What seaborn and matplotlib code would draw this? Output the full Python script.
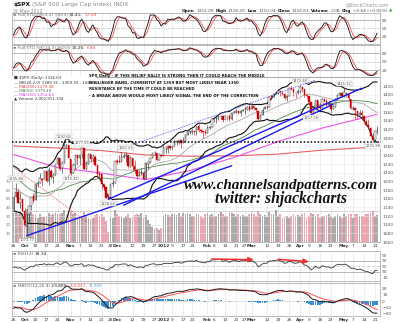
import numpy as np
import pandas as pd
import matplotlib
matplotlib.use("Agg")
import matplotlib.pyplot as plt
import seaborn as sns
from matplotlib.transforms import IdentityTransform
from matplotlib.patches import Rectangle

# ---------------------------------------------------------------- data
holidays = ["2011-11-24", "2011-12-26", "2012-01-02", "2012-01-16", "2012-02-20", "2012-04-06"]

# closes before the visible window (Jul 15 - Sep 23 2011), needed by the indicators
warm_close = [1316.14, 1305.44, 1326.73, 1325.84, 1343.80, 1345.02, 1337.43, 1331.94, 1304.89, 1300.67, 1292.28,
              1286.94, 1254.05, 1260.34, 1200.07, 1199.38, 1119.46, 1172.53, 1120.76, 1172.64, 1178.81, 1204.49,
              1192.76, 1193.89, 1140.65, 1123.53, 1123.82, 1162.35, 1177.60, 1159.27, 1176.80, 1210.08, 1212.92,
              1218.89, 1204.42, 1173.97, 1165.24, 1198.62, 1185.90, 1154.23, 1162.27, 1172.87, 1188.68, 1209.11,
              1216.01, 1204.09, 1202.09, 1166.76, 1129.56, 1136.43]
warm_high = [1181, 1210.1, 1220, 1230.7, 1229, 1203, 1167, 1198.7, 1204, 1185, 1163, 1176, 1202, 1209.2, 1220,
             1216, 1220, 1205, 1166, 1141]
warm_low = [1135, 1179, 1195, 1209, 1203, 1170, 1136, 1167, 1183, 1150, 1136, 1157, 1163, 1190, 1205, 1188, 1201,
            1166, 1115, 1121]

open_ = [1136, 1163, 1175, 1151, 1160,
         1131, 1097, 1124, 1144, 1166, 1158, 1194, 1196, 1206, 1205, 1224, 1201, 1225, 1209, 1215, 1239, 1254, 1230, 1243, 1284, 1284,
         1251, 1219, 1238, 1260, 1253, 1261, 1276, 1229, 1240, 1263, 1251, 1257, 1237, 1217, 1216, 1192, 1187, 1162, 1164, 1193, 1197,
         1246, 1246, 1245, 1257, 1258, 1260, 1234, 1255, 1236, 1226, 1212, 1216, 1219, 1206, 1241, 1244, 1254, 1265, 1265, 1250, 1262,
         1258, 1277, 1275, 1281, 1278, 1281, 1292, 1292, 1295, 1291, 1293, 1308, 1314, 1315, 1315, 1315, 1327, 1318, 1316, 1314,
         1312, 1324, 1326, 1344, 1344, 1347, 1350, 1352, 1343, 1352, 1350, 1343, 1358, 1361, 1362, 1357, 1363, 1366, 1368, 1372,
         1366, 1374, 1370, 1363, 1343, 1353, 1366, 1371, 1371, 1396, 1394, 1402, 1404, 1409, 1405, 1402, 1393, 1397, 1416, 1413, 1405, 1404,
         1408, 1418, 1413, 1399, 1397, 1383, 1359, 1369, 1387, 1371, 1370, 1390, 1385, 1377, 1378, 1367, 1372, 1391, 1400, 1403,
         1398, 1405, 1402, 1391, 1368, 1369, 1363, 1354, 1358, 1351, 1338, 1331, 1324, 1305, 1295, 1316.09]
high = [1164, 1195.86, 1184, 1175, 1160,
        1138, 1125, 1146, 1165, 1172, 1195, 1201, 1220, 1207, 1224.6, 1224, 1233, 1229, 1219, 1239, 1256.55, 1254, 1246, 1292.66, 1287, 1284,
        1251, 1242, 1263, 1260, 1262, 1277.55, 1276, 1246, 1266, 1264, 1264, 1260, 1237, 1223, 1216, 1196, 1187, 1172, 1197, 1204, 1247,
        1251, 1260, 1267, 1266, 1267.06, 1260, 1258, 1255, 1250, 1226, 1226, 1231, 1224, 1242, 1245, 1255, 1265.4, 1269, 1266, 1263.5, 1264,
        1284.6, 1279, 1283, 1281, 1282, 1296, 1294, 1296, 1295, 1303, 1308.5, 1315, 1315.4, 1322, 1315, 1328, 1333.5, 1320, 1316, 1322,
        1330.5, 1329, 1345.3, 1344.4, 1349, 1351, 1354, 1352, 1353, 1352, 1355.9, 1359, 1363.4, 1367.8, 1362.7, 1364, 1368, 1371.9, 1373, 1378,
        1376, 1374.5, 1370, 1363, 1354.9, 1368.7, 1374.8, 1373, 1396, 1399.4, 1402.6, 1405.9, 1414, 1409, 1407.8, 1402.9, 1399, 1416.6, 1419.2, 1413.7, 1405, 1410.9,
        1422.38, 1419, 1413, 1401.6, 1397, 1383, 1374.7, 1388, 1387, 1380, 1392.8, 1390, 1390.4, 1387.4, 1378, 1375.6, 1391.4, 1402, 1406.6, 1403,
        1415.32, 1405, 1403, 1391, 1373.9, 1369, 1363, 1365.9, 1365.9, 1351, 1344.9, 1343, 1326.4, 1312.2, 1316, 1328.49]
low = [1131, 1163, 1150, 1139, 1131,
       1098, 1074.77, 1107, 1134, 1150, 1158, 1186, 1196, 1190, 1205, 1198, 1191, 1206, 1197, 1215, 1238, 1226, 1219, 1243, 1277, 1253,
       1215.42, 1219, 1228, 1238, 1241, 1254, 1226, 1227, 1240, 1244, 1244, 1235, 1209, 1211, 1183, 1181, 1161, 1158.66, 1164, 1188, 1197,
       1239, 1243, 1245, 1253, 1244, 1231, 1234, 1227, 1220, 1206, 1212, 1215, 1203, 1206, 1229, 1243, 1254, 1262, 1248, 1250, 1257,
       1258, 1266, 1266, 1273, 1275, 1281, 1285, 1286, 1278, 1288, 1290, 1308, 1309, 1309, 1306, 1307, 1313, 1311, 1300, 1306,
       1312, 1321, 1326, 1337, 1335, 1341, 1344, 1337, 1343, 1341, 1340, 1341, 1358, 1358, 1355, 1352, 1363, 1355, 1365, 1363,
       1366, 1368, 1360, 1340, 1343, 1353, 1366, 1366, 1371, 1389, 1394, 1401, 1402, 1397, 1400, 1388, 1386, 1397, 1411, 1397, 1392, 1401,
       1404, 1406, 1395, 1392, 1378, 1357.38, 1359, 1368, 1369, 1365, 1370, 1383, 1371, 1377, 1358.8, 1366, 1372, 1387, 1397, 1394,
       1395, 1394, 1388, 1367, 1363.9, 1343, 1343, 1354, 1348, 1336, 1328.5, 1324, 1304.9, 1291.98, 1295, 1310.04]
close = [1162.95, 1175.38, 1151.06, 1160.40, 1131.42,
         1099.23, 1123.95, 1144.03, 1164.97, 1155.46, 1194.89, 1195.54, 1207.25, 1203.66, 1224.58, 1200.86, 1225.38, 1209.88, 1215.39, 1238.25, 1254.19, 1229.05, 1242.00, 1284.59, 1285.09, 1253.30,
         1218.28, 1237.90, 1261.15, 1253.23, 1261.12, 1275.92, 1229.10, 1239.69, 1263.85, 1251.78, 1257.81, 1236.91, 1216.13, 1215.65, 1192.98, 1188.04, 1161.79, 1158.67, 1192.55, 1195.19, 1246.96,
         1244.58, 1244.28, 1257.08, 1258.47, 1261.01, 1234.35, 1255.19, 1236.47, 1225.73, 1211.82, 1215.75, 1219.66, 1205.35, 1241.30, 1243.72, 1254.00, 1265.33, 1265.43, 1249.64, 1263.02, 1257.60,
         1277.06, 1277.30, 1281.06, 1277.81, 1280.70, 1292.08, 1292.48, 1295.50, 1289.09, 1293.67, 1308.04, 1314.50, 1315.38, 1316.00, 1314.65, 1326.06, 1318.43, 1316.33, 1313.01, 1312.41,
         1324.09, 1325.54, 1344.90, 1344.33, 1347.05, 1349.96, 1351.95, 1342.64, 1351.77, 1350.50, 1343.23, 1358.04, 1361.23, 1362.21, 1357.66, 1363.46, 1365.74, 1367.59, 1372.18, 1365.68,
         1374.09, 1369.63, 1364.33, 1343.36, 1352.63, 1365.91, 1370.87, 1371.09, 1395.95, 1394.28, 1402.60, 1404.17, 1409.75, 1405.52, 1402.89, 1392.78, 1397.11, 1416.51, 1412.52, 1405.54, 1403.28, 1408.47,
         1419.04, 1413.38, 1398.96, 1398.08, 1382.20, 1358.59, 1368.71, 1387.57, 1370.26, 1369.57, 1390.78, 1385.14, 1376.92, 1378.53, 1366.94, 1371.97, 1390.69, 1399.98, 1403.36, 1397.91,
         1405.82, 1402.31, 1391.57, 1369.10, 1369.58, 1363.72, 1354.58, 1357.99, 1353.39, 1338.35, 1330.66, 1324.80, 1304.86, 1295.22, 1315.99, 1316.63]
# volume, hundreds of millions of shares
volume = [34, 36, 33, 35, 34,
          36, 38, 36, 35, 33, 31, 28, 32, 29, 29, 30, 34, 31, 33, 34, 32, 32, 34, 37, 31, 34,
          36, 32, 34, 29, 28, 30, 35, 30, 28, 27, 28, 31, 33, 30, 33, 29, 24, 12, 29, 28, 37,
          33, 30, 29, 28, 30, 32, 28, 29, 31, 32, 31, 34, 28, 31, 26, 21, 17, 15, 16, 14, 16,
          30, 32, 31, 30, 32, 33, 31, 34, 30, 34, 32, 34, 33, 30, 30, 33, 32, 30, 28, 33,
          34, 31, 32, 30, 30, 32, 35, 32, 30, 30, 35, 34, 32, 30, 32, 30, 31, 30, 30, 33,
          34, 32, 30, 36, 32, 30, 31, 29, 35, 33, 32, 37, 30, 32, 28, 30, 30, 28, 30, 32, 30, 31,
          30, 32, 34, 28, 30, 34, 32, 30, 32, 28, 30, 30, 31, 32, 30, 28, 30, 32, 30, 28,
          32, 30, 32, 33, 28, 33, 33, 30, 30, 30, 32, 33, 34, 36, 30, 31]
volume_ref = 36

ma_days = ["2011-09-26", "2011-10-24", "2011-11-21", "2011-12-20", "2012-01-20",
           "2012-02-17", "2012-03-19", "2012-04-17", "2012-05-22"]
ma200_vals = [1282, 1277, 1271, 1261, 1258, 1259, 1263, 1272, 1279.38]
ma100_vals = [1262, 1232, 1219, 1204, 1225, 1255, 1292, 1323, 1354.63]

support_level = 1292
blue_lines = [(("2011-10-04", 1074.77), ("2012-02-16", 1236)),
              (("2011-11-25", 1158.66), ("2012-05-11", 1415)),
              (("2011-12-06", 1145), ("2012-04-24", 1378))]
channel_top = (("2011-12-01", 1272), ("2012-04-12", 1434))
red_downtrend = (("2011-09-26", 1233), ("2011-11-10", 1107))
rsi_divergence = [(("2012-02-03", 76.5), ("2012-03-02", 74)),
                  (("2012-03-19", 75.5), ("2012-04-09", 67))]

price_labels = [("2011-09-27", 1195.86, "above"), ("2011-10-04", 1074.77, "below"),
                ("2011-10-27", 1292.66, "above"), ("2011-11-01", 1215.42, "below"),
                ("2011-11-08", 1277.55, "above"), ("2011-11-25", 1158.66, "below"),
                ("2011-12-07", 1267.06, "above"), ("2012-04-02", 1422.38, "above"),
                ("2012-04-10", 1357.38, "below"), ("2012-05-01", 1415.32, "above"),
                ("2012-05-18", 1291.98, "below")]

tick_dates = ["2011-09-26", "2011-10-03", "2011-10-10", "2011-10-17", "2011-10-24", "2011-11-01", "2011-11-07",
              "2011-11-14", "2011-11-21", "2011-11-28", "2011-12-01", "2011-12-12", "2011-12-19", "2011-12-27",
              "2012-01-03", "2012-01-09", "2012-01-17", "2012-01-23", "2012-02-01", "2012-02-06", "2012-02-13",
              "2012-02-21", "2012-02-27", "2012-03-01", "2012-03-12", "2012-03-19", "2012-03-26", "2012-04-02",
              "2012-04-09", "2012-04-16", "2012-04-23", "2012-05-01", "2012-05-07", "2012-05-14", "2012-05-21"]
tick_text = ["26", "Oct", "10", "17", "24", "Nov", "7", "14", "21", "28", "Dec", "12", "19", "27", "2012", "9",
             "17", "23", "Feb", "6", "13", "21", "27", "Mar", "12", "19", "26", "Apr", "9", "16", "23", "May",
             "7", "14", "21"]

# ---------------------------------------------------------------- setup
sns.set_theme(style="white")
plt.rcParams['font.family'] = ['DejaVu Sans']

W, H = 400, 323
fig = plt.figure(figsize=(W / 100, H / 100), dpi=100)
fig.patch.set_facecolor("white")
REN = fig.canvas.get_renderer()
ID = IdentityTransform()

L_PX, R_PX = 11.5, 380.0
X0_PX, DX_PX = 13.5, 2.204
XMIN = (L_PX - X0_PX) / DX_PX
XMAX = (R_PX - X0_PX) / DX_PX

dates = pd.bdate_range("2011-09-26", "2012-05-22")
dates = dates[~dates.isin(pd.to_datetime(holidays))]
pos = {d: i for i, d in enumerate(dates)}


def di(s):
    return pos[pd.Timestamp(s)]


x = np.arange(len(dates))
tick_pos = [di(d) for d in tick_dates]
bold_ticks = {"Oct", "Nov", "Dec", "2012", "Feb", "Mar", "Apr", "May"}

# ---------------------------------------------------------------- indicators
nw = len(warm_close)
c_all = pd.Series(warm_close + close, dtype=float)
pad = [np.nan] * (nw - len(warm_high))
h_all = pd.Series(pad + warm_high + high, dtype=float)
l_all = pd.Series(pad + warm_low + low, dtype=float)


def full_sto(k, s=3, d=3):
    hh = h_all.rolling(k).max()
    ll = l_all.rolling(k).min()
    raw = 100 * (c_all - ll) / (hh - ll)
    kk = raw.rolling(s).mean()
    dd = kk.rolling(d).mean()
    return kk.values[nw:], dd.values[nw:]


sto1_k, sto1_d = full_sto(5)
sto2_k, sto2_d = full_sto(14)
bb_mid = c_all.rolling(20).mean()
bb_sd = c_all.rolling(20).std(ddof=0)
bb_up = (bb_mid + 2 * bb_sd).values[nw:]
bb_lo = (bb_mid - 2 * bb_sd).values[nw:]
bb_mid = bb_mid.values[nw:]
ma50 = c_all.rolling(50).mean().values[nw:]
delta = c_all.diff()
ag = delta.clip(lower=0).ewm(alpha=1 / 14, adjust=False).mean()
al = (-delta.clip(upper=0)).ewm(alpha=1 / 14, adjust=False).mean()
rsi = (100 - 100 / (1 + ag / al)).values[nw:]
macd_s = c_all.ewm(span=12, adjust=False).mean() - c_all.ewm(span=26, adjust=False).mean()
sig_s = macd_s.ewm(span=9, adjust=False).mean()
macd = macd_s.values[nw:]
sig = sig_s.values[nw:]
hist = macd - sig


# ---------------------------------------------------------------- helpers
def panel(top, bottom, z=1):
    a = fig.add_axes([L_PX / W, 1 - bottom / H, (R_PX - L_PX) / W, (bottom - top) / H], zorder=z)
    a.set_facecolor("white")
    for s in a.spines.values():
        s.set_color("#A0A0A0")
        s.set_linewidth(0.5)
    a.set_xticks(tick_pos)
    a.set_xticklabels([])
    a.yaxis.tick_right()
    a.tick_params(axis="both", length=0, labelsize=3.2, colors="#555555", pad=1.5)
    a.grid(True, axis="x", color="#E3E3E3", lw=0.45)
    a.set_axisbelow(True)
    a.set_xlabel("")
    a.set_ylabel("")
    return a


def line(ax, xs, ys, color, lw, ls="-", z=3):
    sns.lineplot(x=np.asarray(xs, float), y=np.asarray(ys, float), ax=ax, color=color, lw=lw,
                 linestyle=ls, legend=False, zorder=z, estimator=None, sort=False, errorbar=None)


def ftext(xp, yp, s, **kw):
    kw.setdefault("va", "center")
    kw.setdefault("ha", "left")
    return fig.text(xp, H - yp, s, transform=ID, **kw)


def seq_text(xp, yp, parts, size, gap=1.4, right=None):
    texts = []
    cur = xp
    for s, color, weight in parts:
        t = ftext(cur, yp, s, fontsize=size, color=color, fontweight=weight, zorder=10)
        cur = t.get_window_extent(renderer=REN).x1 + gap
        texts.append(t)
    if right is not None:
        shift = right - (cur - gap)
        for t in texts:
            px, py = t.get_position()
            t.set_position((px + shift, py))
    return texts


def set_xlabels(ax):
    ax.set_xticklabels(tick_text)
    for t in ax.get_xticklabels():
        t.set_color("#333333")
        if t.get_text() in bold_ticks:
            t.set_fontweight("bold")


def hlines(ax, levels_solid, level_dash):
    for v in levels_solid:
        ax.axhline(v, color="#9C9C9C", lw=0.5, zorder=1)
    ax.axhline(level_dash, color="#B8B8B8", lw=0.45, ls=(0, (4, 1.5, 1, 1.5)), zorder=1)


# ---------------------------------------------------------------- stochastic panels
ax1 = panel(12.5, 44)
hlines(ax1, [80, 20], 50)
line(ax1, x, sto1_d, "#FF5A5A", 0.65)
line(ax1, x, sto1_k, "#1A1A1A", 0.65)
ax1.set_ylim(-6.2, 107)
ax1.set_yticks([20, 50, 80])

ax2 = panel(45, 76.5)
hlines(ax2, [80, 20], 50)
line(ax2, x, sto2_d, "#FF5A5A", 0.65)
line(ax2, x, sto2_k, "#1A1A1A", 0.65)
ax2.set_ylim(-2.9, 109.6)
ax2.set_yticks([20, 50, 80])

# ---------------------------------------------------------------- price panel
axv = panel(77, 242, z=0)
axp = panel(77, 242, z=1)
axp.patch.set_visible(False)
axp.grid(False, axis="x")
axp.grid(True, axis="y", color="#E6E6E6", lw=0.4)
for s in axv.spines.values():
    s.set_visible(False)

prev = np.r_[warm_close[-1], close[:-1]]
c = np.array(close)
o = np.array(open_, float)
down = c < prev
vol_col = np.where(down, "#EBA7AF", "#AAAAAA")
axv.bar(x, volume, width=0.78, color=vol_col, linewidth=0, zorder=2)
axv.axhline(volume_ref, color="#8A8A8A", lw=0.5, ls=(0, (1, 1.2)), zorder=3)
axv.set_ylim(0, 165 / 0.86)
axv.yaxis.tick_left()
axv.set_yticks([10, 20, 30, 40, 50, 60, 70])
axv.tick_params(axis="y", labelsize=2.9, colors="#777777", pad=0.8)
axv.set_xlim(XMIN, XMAX)

# moving averages and bands
line(axp, [di(d) for d in ma_days], ma200_vals, "#E65A5A", 0.75, z=2)
line(axp, [di(d) for d in ma_days], ma100_vals, "#EE55EE", 0.8, z=2)
line(axp, x, ma50, "#4F8A4F", 0.6, z=2)
line(axp, x, bb_mid, "#9A9A9A", 0.5, z=2)
line(axp, x, bb_up, "#111111", 0.8, z=2)
line(axp, x, bb_lo, "#111111", 0.8, z=2)

# candles
ccol = np.where(down, "#D40000", "#1E1E1E")
axp.vlines(x, low, high, colors=ccol, lw=0.4, zorder=5)
body_lo = np.minimum(o, c)
body_h = np.maximum(np.abs(c - o), 0.8)
face = np.where(c < o, ccol, "white")
axp.bar(x, body_h, bottom=body_lo, width=0.62, color=face, edgecolor=ccol, linewidth=0.3, zorder=6)

# drawn lines
axp.axhline(support_level, color="#000000", lw=1.1, ls=(0, (1, 1.3)), zorder=7)
for (d0, p0), (d1, p1) in blue_lines:
    line(axp, [di(d0), di(d1)], [p0, p1], "#1A1AF0", 1.0, z=8)
(d0, p0), (d1, p1) = channel_top
line(axp, [di(d0), di(d1)], [p0, p1], "#4A4AFF", 0.45, ls=(0, (3, 1.5)), z=8)
(d0, p0), (d1, p1) = red_downtrend
line(axp, [di(d0), di(d1)], [p0, p1], "#E04848", 0.6, ls=(0, (1, 1.2)), z=8)

for d, v, where in price_labels:
    off = 4.5 if where == "above" else -4.5
    axp.annotate(f"{v:.2f}", (di(d), v), xytext=(0, off * 0.72), textcoords="offset points",
                 ha="center", va="center", fontsize=2.6, color="#555555", zorder=9,
                 bbox=dict(boxstyle="square,pad=0.15", fc="white", ec="#B0B0B0", lw=0.3))

axp.set_ylim(1060, 1441)
axp.set_yticks(list(range(1060, 1421, 20)))
axp.set_xlim(XMIN, XMAX)
set_xlabels(axp)

# ---------------------------------------------------------------- RSI
axr = panel(251, 281)
hlines(axr, [70, 30], 50)
line(axr, x, rsi, "#333333", 0.6)
for (d0, v0), (d1, v1) in rsi_divergence:
    axr.annotate("", xy=(di(d1), v1), xytext=(di(d0), v0), zorder=6,
                 arrowprops=dict(arrowstyle="-|>,head_length=0.25,head_width=0.12", color="#F03030", lw=1.1,
                                 shrinkA=0, shrinkB=0))
axr.set_ylim(-3.5, 105.6)
axr.set_yticks([10, 30, 50, 70, 90])

# ---------------------------------------------------------------- MACD
axm = panel(283, 315.5)
axm.axhline(0, color="#C8C8C8", lw=0.4, zorder=1)
axm.bar(x, hist, width=0.8, color="#3C8FD0", linewidth=0, zorder=2)
line(axm, x, sig, "#FF5050", 0.7)
line(axm, x, macd, "#1A1A1A", 0.7)
axm.set_ylim(-23.6, 29.3)
axm.set_yticks([-20, -10, 0, 10, 20])
set_xlabels(axm)

for a in (ax1, ax2, axv, axp, axr, axm):
    a.set_xlim(XMIN, XMAX)
    a.set_xlabel("")
    a.set_ylabel("")

# ---------------------------------------------------------------- texts
seq_text(13, 4.5, [(r"\$SPX", "#111111", "bold"), ("(S&P 500 Large Cap Index) INDX", "#888888", "normal")], 4.2, gap=1.5)
ftext(389, 4.5, "@StockCharts.com", fontsize=3.3, color="#999999", ha="right")
ftext(13, 11, "22-May-2012", fontsize=3.3, color="#888888")
seq_text(0, 11, [("Open", "#111111", "bold"), ("1316.09", "#555555", "normal"),
                 ("High", "#111111", "bold"), ("1328.49", "#555555", "normal"),
                 ("Low", "#111111", "bold"), ("1310.04", "#555555", "normal"),
                 ("Close", "#111111", "bold"), ("1316.63", "#555555", "normal"),
                 ("Volume", "#111111", "bold"), ("2.0B", "#555555", "normal"),
                 ("Chg", "#111111", "bold"), ("+0.64 (+0.05%)", "#555555", "normal"),
                 ("▲", "#2E9E2E", "normal")], 3.1, gap=1.6, right=392)

seq_text(13, 15.5, [("≡ Full STO %K(5,3) %D(3)", "#666666", "normal"), ("33.41,", "#222222", "normal"),
                    ("17.39", "#FF4040", "normal")], 3.1, gap=1.2)
seq_text(13, 48, [("≡ Full STO %K(14,3) %D(3)", "#666666", "normal"), ("15.20,", "#222222", "normal"),
                  ("6.84", "#FF4040", "normal")], 3.1, gap=1.2)
seq_text(13, 254, [("≡ RSI(14)", "#666666", "normal"), ("34.34", "#222222", "normal")], 3.1, gap=1.2)
seq_text(13, 286, [("≡ MACD(12,26,9)", "#666666", "normal"), ("-19.809,", "#222222", "normal"),
                   ("-14.017,", "#FF4040", "normal"), ("-5.792", "#3C8FD0", "normal")], 3.1, gap=1.2)

# legend of the price panel
fig.add_artist(Rectangle((12, H - 100.5), 84, 24.5, transform=ID, facecolor="white", edgecolor="none", zorder=8))
legend_rows = [("■ $SPX (Daily) 1316.63", "#333333"),
               (f"— BB(20,2.0) {bb_lo[-1]:.2f} - {bb_mid[-1]:.2f} - {bb_up[-1]:.2f}", "#333333"),
               ("— MA(200) 1279.38", "#E03A3A"),
               ("— MA(50) 1379.49", "#3D7D3D"),
               ("— MA(100) 1354.63", "#DD33DD"),
               ("▲ Volume 2,002,911,104", "#333333")]
for k, (s, col) in enumerate(legend_rows):
    ftext(13.5, 78.5 + 4.1 * k, s.replace("$", r"\$"), fontsize=2.9, color=col, zorder=10)

# author's note
note = ["SPX Daily - IF THIS RELIEF RALLY IS STRONG THEN IT COULD REACH THE MIDDLE",
        "BOLLINGER BAND, CURRENTLY AT 1359 BUT MOST LIKELY NEAR 1350",
        "RESISTANCE BY THE TIME IT COULD BE REACHED",
        "- A BREAK ABOVE WOULD MOST LIKELY SIGNAL THE END OF THE CORRECTION"]
nfam = ["Liberation Sans Narrow", "DejaVu Sans"]
t0 = ftext(89, 76.3, note[0], fontsize=10, color="#111111", fontweight="bold", family=nfam,
           fontstretch="condensed", zorder=10)
nsize = 10 * 170 / t0.get_window_extent(renderer=REN).width
t0.set_fontsize(nsize)
for k, s in enumerate(note[1:], start=1):
    ftext(89, 76.3 + 6.6 * k, s, fontsize=nsize, color="#111111", fontweight="bold", family=nfam,
          fontstretch="condensed", zorder=10)

# watermark
wfam = ["Liberation Serif", "DejaVu Serif"]
for s, x0, x1, yb in [("www.channelsandpatterns.com", 184, 377, 188.5),
                      ("twitter: shjackcharts", 215, 347, 203)]:
    t = ftext(x0, yb, s, fontsize=12, color="#111111", fontweight="bold", fontstyle="italic",
              family=wfam, va="baseline", zorder=10)
    t.set_fontsize(12 * (x1 - x0) / t.get_window_extent(renderer=REN).width)

fig.savefig("out.png", dpi=100, facecolor="white")
